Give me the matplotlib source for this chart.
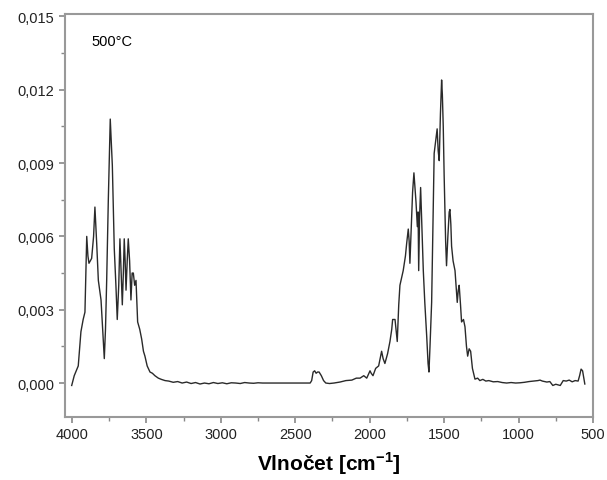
import numpy as np
import matplotlib
matplotlib.use('Agg')
import matplotlib.pyplot as plt
from matplotlib.ticker import MultipleLocator, FuncFormatter

plt.rcParams['font.family'] = ['Liberation Sans', 'DejaVu Sans']
plt.rcParams['mathtext.fontset'] = 'custom'
plt.rcParams['mathtext.rm'] = 'Liberation Sans'
plt.rcParams['mathtext.bf'] = 'Liberation Sans:bold'

# spectrum (wavenumber, absorbance)
wavenumber = [4002, 3985, 3958, 3940, 3925, 3913, 3901, 3893, 3886, 3868, 3855, 3846,
              3834, 3823, 3805, 3792, 3783, 3775, 3767, 3756, 3748, 3743, 3736, 3729,
              3716, 3705, 3696, 3686, 3678, 3670, 3662, 3655, 3649, 3643, 3637, 3629,
              3622, 3613, 3604, 3596, 3588, 3579, 3570, 3559, 3545, 3532, 3520, 3510,
              3495, 3476, 3460, 3443, 3420, 3400, 3375,
              3350, 3320, 3290, 3260, 3230, 3200, 3170, 3140, 3110, 3080, 3050, 3020,
              2990, 2960, 2930, 2900, 2870, 2840, 2810, 2780, 2750, 2720, 2690, 2650,
              2600, 2550, 2500, 2450, 2400, 2390, 2380, 2370, 2360, 2350, 2340, 2325,
              2310, 2295, 2270, 2240, 2200, 2160, 2120, 2090, 2065, 2040, 2020, 1998,
              1990, 1978, 1960, 1940, 1920, 1910, 1898, 1880, 1864, 1852, 1846, 1830,
              1815, 1805, 1797, 1786, 1775, 1760, 1752, 1741, 1735, 1730, 1720, 1712,
              1703, 1696, 1689, 1680, 1675, 1671, 1665, 1658, 1650, 1640, 1630, 1617,
              1608, 1602, 1595, 1584, 1575, 1567, 1555, 1547, 1540, 1533, 1525, 1517,
              1512, 1506, 1500, 1495, 1490, 1484, 1475, 1466, 1461, 1455, 1450, 1440,
              1427, 1420, 1412, 1405, 1399, 1390, 1383, 1370, 1360, 1350, 1342, 1332,
              1322, 1310, 1293, 1275, 1260, 1240, 1220, 1200, 1170, 1140, 1110, 1080,
              1050, 1020, 990, 960, 930, 900, 870, 856, 840, 810, 790, 770, 750, 720,
              700, 680, 660, 640, 620, 600, 590, 580, 570, 562, 555]
absorbance = [-0.0001, 0.0003, 0.0007, 0.0021, 0.0026, 0.0029, 0.0060, 0.0052, 0.0049, 0.0051, 0.0060, 0.0072,
              0.0057, 0.0042, 0.0034, 0.0020, 0.0010, 0.0022, 0.0042, 0.0075, 0.0095, 0.0108, 0.0098, 0.0089,
              0.0055, 0.0040, 0.0026, 0.0040, 0.0059, 0.0045, 0.0032, 0.0045, 0.0059, 0.0050, 0.0038, 0.0050,
              0.0059, 0.0050, 0.0034, 0.0045, 0.0045, 0.0040, 0.0042, 0.0025, 0.0022, 0.0018, 0.0013, 0.0011,
              0.0007, 0.00045, 0.0004, 0.0003, 0.0002, 0.00015, 0.0001,
              0.00008, 0.00003, 0.00006, 0.0, 0.00004, -0.00002, 0.00002, -0.00004, 0.0, -0.00003, 0.00002, -0.00002,
              0.00001, -0.00003, 0.00001, 0.0, -0.00002, 0.00002, 0.0, -0.00001, 0.00001, 0.0, 0.0, 0.0,
              0.0, 0.0, 0.0, 0.0, 0.0, 0.0001, 0.00045, 0.0005, 0.0004, 0.00045, 0.00045, 0.0003,
              0.0001, 0.0, -0.00002, 0.0, 0.00004, 0.0001, 0.00012, 0.0002, 0.0002, 0.0003, 0.0002, 0.0005,
              0.0004, 0.0003, 0.0006, 0.0007, 0.0013, 0.0010, 0.0008, 0.0012, 0.0017, 0.0022, 0.0026, 0.0026,
              0.0017, 0.0032, 0.0040, 0.0043, 0.0046, 0.0052, 0.0057, 0.0063, 0.0058, 0.0049, 0.0065, 0.0078,
              0.0086, 0.0080, 0.0074, 0.0064, 0.0070, 0.0046, 0.0068, 0.0080, 0.0065, 0.0046, 0.0033, 0.0019,
              0.0008, 0.00045, 0.0015, 0.0033, 0.0065, 0.0094, 0.0100, 0.0104, 0.0095, 0.0091, 0.0110, 0.0124,
              0.0118, 0.0105, 0.0085, 0.0071, 0.0058, 0.0048, 0.0060, 0.0070, 0.0071, 0.0065, 0.0056, 0.0050,
              0.0046, 0.0040, 0.0033, 0.0038, 0.0040, 0.0032, 0.0025, 0.0026, 0.0023, 0.0015, 0.0011, 0.0014,
              0.0013, 0.0006, 0.00016, 0.0002, 0.0001, 0.00015, 0.00008, 0.0001, 0.00005, 0.00006, 0.00002, 0.0,
              0.00002, 0.0, 0.00001, 0.00003, 0.00006, 0.00008, 0.0001, 0.00012, 0.00008, 0.00004, 0.00006, -0.0001, -0.00005, -0.0001,
              0.0001, 0.00008, 0.00012, 0.00005, 0.0001, 0.00008, 0.0003, 0.00057, 0.0005, 0.0002, -0.00004]

fig = plt.figure(figsize=(6.07, 4.81), dpi=100)
ax = fig.add_axes([65 / 607, 1 - 418 / 481, 528 / 607, 403 / 481])

ax.plot(wavenumber, absorbance, color='#2a2a2a', linewidth=1.0)

ax.set_xlim(4047, 500)
ax.set_ylim(-0.00139, 0.0151)

ax.xaxis.set_major_locator(MultipleLocator(500))
ax.xaxis.set_minor_locator(MultipleLocator(250))
ax.yaxis.set_major_locator(MultipleLocator(0.003))
ax.yaxis.set_minor_locator(MultipleLocator(0.0015))
ax.yaxis.set_major_formatter(FuncFormatter(lambda v, p: f'{v:.3f}'.replace('.', ',').replace('-0,000', '0,000')))

for s in ax.spines.values():
    s.set_color('#999999')
    s.set_linewidth(1.5)
ax.tick_params(which='both', direction='out', color='#888888', labelsize=10.5, labelcolor='#222222')
ax.tick_params(which='major', length=4, width=1.2)
ax.tick_params(which='minor', length=3, width=1)

ax.text(0.051, 0.933, '500°C', transform=ax.transAxes, fontsize=10.5, va='center', ha='left')
ax.set_xlabel(r'Vlnočet [cm$^{\mathbf{-1}}$]', fontsize=15, fontweight='bold', labelpad=6)

fig.savefig('out.png', dpi=100)
